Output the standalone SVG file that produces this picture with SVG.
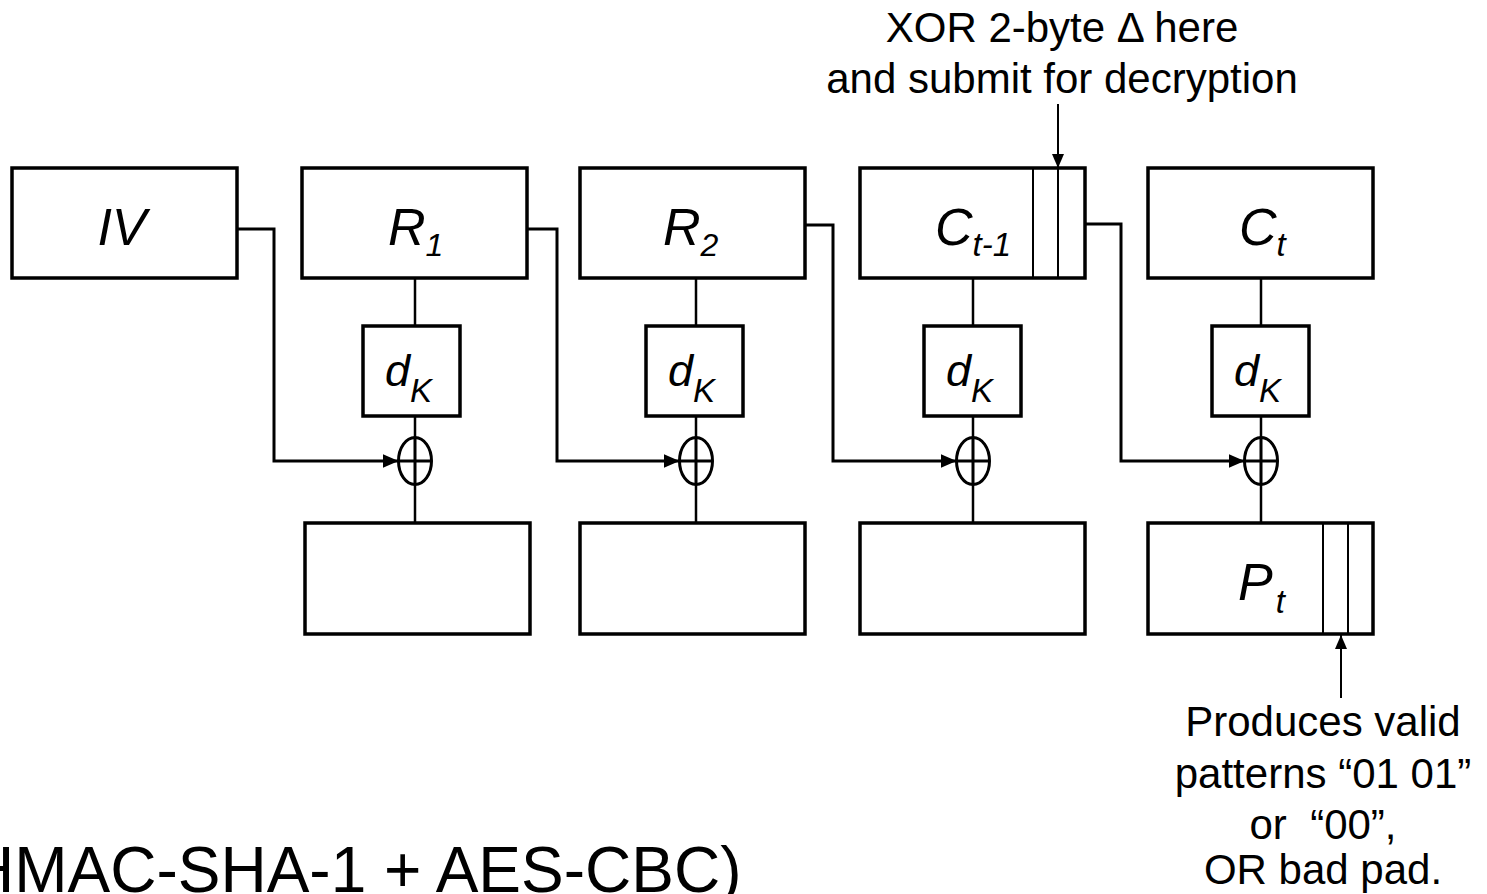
<svg xmlns="http://www.w3.org/2000/svg" width="1487" height="894" viewBox="0 0 1487 894">
<style>
.box{fill:#fff;stroke:#000;stroke-width:3.5}
.sm{fill:#fff;stroke:#000;stroke-width:3.5}
.ln{fill:none;stroke:#000;stroke-width:2.5}
.cn{fill:none;stroke:#000;stroke-width:3}
.dv{fill:none;stroke:#000;stroke-width:2}
.xo{fill:none;stroke:#000;stroke-width:3}
.lbl{font-family:"Liberation Sans",Arial,sans-serif;font-style:italic;fill:#000}
.txt{font-family:"Liberation Sans",Arial,sans-serif;fill:#000;font-size:42px}
</style>
<defs>
<marker id="ah" viewBox="0 0 16 14" refX="16" refY="7" markerWidth="16" markerHeight="14" markerUnits="userSpaceOnUse" orient="auto"><path d="M0,0 L16,7 L0,14 z" fill="#000"/></marker>
<marker id="as" viewBox="0 0 14 12" refX="14" refY="6" markerWidth="14" markerHeight="12" markerUnits="userSpaceOnUse" orient="auto"><path d="M0,0 L14,6 L0,12 z" fill="#000"/></marker>
</defs>
<rect width="1487" height="894" fill="#fff"/>

<g id="connectors">
<path class="ln" d="M415,278 V326 M415,416 V438 M415,484 V528"/>
<path class="ln" d="M696,278 V326 M696,416 V438 M696,484 V523"/>
<path class="ln" d="M973,278 V326 M973,416 V438 M973,484 V523"/>
<path class="ln" d="M1261,278 V326 M1261,416 V438 M1261,484 V523"/>
<path class="cn" d="M237,229 H274 V461 H398.5" marker-end="url(#ah)"/>
<path class="cn" d="M527,229 H557 V461 H679.5" marker-end="url(#ah)"/>
<path class="cn" d="M805,225 H833 V461 H956.5" marker-end="url(#ah)"/>
<path class="cn" d="M1085,224 H1121 V461 H1244.5" marker-end="url(#ah)"/>
<path class="dv" d="M1058,104 V168" marker-end="url(#as)"/>
<path class="dv" d="M1341,698 V635" marker-end="url(#as)"/>
</g>

<g id="iv"><rect class="box" x="12" y="168" width="225" height="110"/><text class="lbl" x="122" y="245" font-size="52" text-anchor="middle">IV</text></g>
<g id="r1"><rect class="box" x="302" y="168" width="225" height="110"/><text class="lbl" x="388" y="245" font-size="52">R<tspan font-size="32" dy="11">1</tspan></text></g>
<g id="r2"><rect class="box" x="580" y="168" width="225" height="110"/><text class="lbl" x="663" y="245" font-size="52">R<tspan font-size="32" dy="11">2</tspan></text></g>
<g id="ct1"><rect class="box" x="860" y="168" width="225" height="110"/><path class="dv" d="M1033,168 V278 M1058,168 V278"/><text class="lbl" x="935" y="245" font-size="52">C<tspan font-size="33" dy="11">t-1</tspan></text></g>
<g id="ct"><rect class="box" x="1148" y="168" width="225" height="110"/><text class="lbl" x="1239" y="245" font-size="52">C<tspan font-size="33" dy="11">t</tspan></text></g>

<g id="dk1"><rect class="sm" x="363" y="326" width="97" height="90"/><text class="lbl" x="385" y="386" font-size="45">d<tspan font-size="33" dy="16">K</tspan></text></g>
<g id="dk2"><rect class="sm" x="646" y="326" width="97" height="90"/><text class="lbl" x="668" y="386" font-size="45">d<tspan font-size="33" dy="16">K</tspan></text></g>
<g id="dk3"><rect class="sm" x="924" y="326" width="97" height="90"/><text class="lbl" x="946" y="386" font-size="45">d<tspan font-size="33" dy="16">K</tspan></text></g>
<g id="dk4"><rect class="sm" x="1212" y="326" width="97" height="90"/><text class="lbl" x="1234" y="386" font-size="45">d<tspan font-size="33" dy="16">K</tspan></text></g>

<g id="xor1"><ellipse class="xo" cx="415" cy="461" rx="16.5" ry="23.5"/><path class="xo" d="M398.5,461 H431.5 M415,437.5 V484.5"/></g>
<g id="xor2"><ellipse class="xo" cx="696" cy="461" rx="16.5" ry="23.5"/><path class="xo" d="M679.5,461 H712.5 M696,437.5 V484.5"/></g>
<g id="xor3"><ellipse class="xo" cx="973" cy="461" rx="16.5" ry="23.5"/><path class="xo" d="M956.5,461 H989.5 M973,437.5 V484.5"/></g>
<g id="xor4"><ellipse class="xo" cx="1261" cy="461" rx="16.5" ry="23.5"/><path class="xo" d="M1244.5,461 H1277.5 M1261,437.5 V484.5"/></g>

<g id="p1"><rect class="box" x="305" y="523" width="225" height="111"/></g>
<g id="p2"><rect class="box" x="580" y="523" width="225" height="111"/></g>
<g id="p3"><rect class="box" x="860" y="523" width="225" height="111"/></g>
<g id="pt"><rect class="box" x="1148" y="523" width="225" height="111"/><path class="dv" d="M1323,523 V634 M1348,523 V634"/><text class="lbl" x="1238" y="600" font-size="52">P<tspan font-size="33" dx="3" dy="13">t</tspan></text></g>

<g id="note-top"><text class="txt" text-anchor="middle"><tspan x="1062" y="42">XOR 2-byte Δ here</tspan><tspan x="1062" y="93">and submit for decryption</tspan></text></g>
<g id="note-bottom"><text class="txt" text-anchor="middle" xml:space="preserve"><tspan x="1323" y="736">Produces valid</tspan><tspan x="1323" y="788">patterns “01 01”</tspan><tspan x="1323" y="839">or  “00”,</tspan><tspan x="1323" y="884">OR bad pad.</tspan></text></g>
<g id="caption"><text class="txt" x="-32" y="892" style="font-size:64px">HMAC-SHA-1 + AES-CBC)</text></g>
</svg>
